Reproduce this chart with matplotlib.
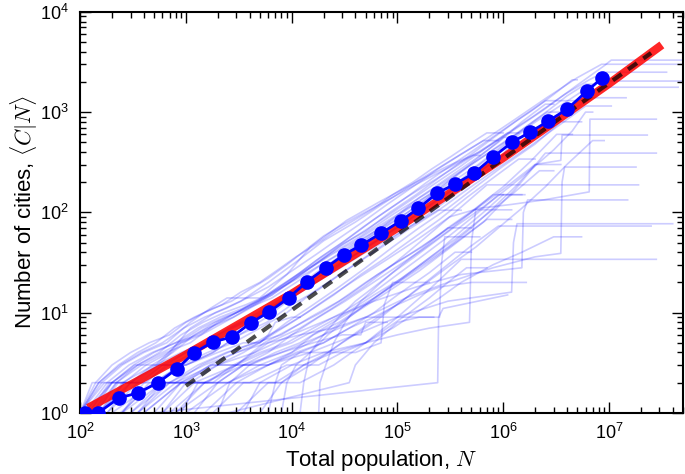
import matplotlib.pyplot as plt

plt.rcParams['font.family'] = ['Liberation Sans', 'DejaVu Sans']
plt.rcParams['mathtext.fontset'] = 'cm'

# binned average (blue dots)
bin_pop = [111, 148, 233, 352, 545, 822, 1190, 1800, 2720, 4100, 6070, 9380,
           1.39e4, 2.09e4, 3.1e4, 4.57e4, 7.06e4, 1.07e5, 1.58e5, 2.38e5, 3.52e5,
           5.32e5, 8.05e5, 1.22e6, 1.8e6, 2.66e6, 4.02e6, 6.19e6, 8.59e6]
bin_cities = [1.0, 1.0, 1.41, 1.58, 2.0, 2.75, 3.97, 5.1, 5.7, 7.9, 10.1, 14.1,
              20.2, 27.9, 37.6, 47.3, 62.3, 82, 110, 156, 192,
              247, 357, 503, 632, 813, 1072, 1622, 2188]

# model curve (red) and power law guide (black dashed)
model_pop = [119, 1e3, 1e4, 1e5, 1e6, 1e7, 3.16e7]
model_cities = [1.12, 3.8, 15.4, 70, 350, 1920, 4680]
guide_pop = [1e3, 2.5e7]
guide_cities = [1.86, 3890]

# individual country trajectories (light blue)
upper_pop = [
    [100, 160, 250, 400, 660, 1100, 1700, 2450, 5000, 9000, 1.5e4, 3.3e4, 7e4, 1.5e5, 3e5, 6e5, 1.2e6, 2.4e6, 4.8e6, 9e6, 1.05e7, 5e7],
    [100, 150, 260, 420, 700, 1100, 1900, 3300, 6000, 1.1e4, 2e4, 4e4, 8e4, 1.6e5, 3.2e5, 6.5e5, 1.3e6, 2.6e6, 5e6, 8.5e6, 5e7],
    [110, 200, 330, 550, 900, 1600, 2800, 5000, 9000, 1.7e4, 3.2e4, 6e4, 1.2e5, 2.4e5, 4.8e5, 9.5e5, 1.9e6, 3.8e6, 6.5e6, 9e6, 3.5e7],
    [130, 220, 380, 650, 1100, 2000, 3600, 6500, 1.2e4, 2.3e4, 4.5e4, 9e4, 1.8e5, 3.6e5, 7e5, 1.4e6, 2.8e6, 5.5e6, 8e6, 5e7],
    [150, 300, 500, 900, 1500, 2600, 4500, 8000, 1.5e4, 2.8e4, 5.5e4, 1.1e5, 2.1e5, 4.2e5, 8.5e5, 1.7e6, 3.4e6, 6e6, 8e6, 4.5e7],
    [180, 350, 600, 1000, 1800, 3200, 5800, 1e4, 1.9e4, 3.6e4, 7e4, 1.4e5, 2.8e5, 5.5e5, 1.1e6, 2.2e6, 4.4e6, 7e6, 1.45e7],
    [240, 500, 900, 1600, 2800, 5000, 9000, 1.6e4, 3e4, 6e4, 1.2e5, 2.3e5, 4.6e5, 9e5, 1.8e6, 3.5e6, 6e6, 1.05e7],
    [300, 600, 1100, 2000, 3500, 6500, 1.2e4, 2.2e4, 4.2e4, 8e4, 1.6e5, 3.1e5, 6e5, 1.2e6, 2.4e6, 6.5e6, 6.6e6, 2.8e7],
    [400, 900, 1700, 3000, 5500, 1e4, 1.9e4, 3.5e4, 6.5e4, 1.3e5, 2.5e5, 5e5, 1e6, 2e6, 3.5e6, 3.6e6, 2.3e7],
    [600, 1200, 2500, 5000, 1e4, 2e4, 4e4, 8e4, 1.6e5, 3.2e5, 6.5e5, 1.3e6, 2.5e6, 2.8e7],
    [100, 150, 230, 350, 520, 780, 1200, 1800, 2700, 4000, 6000, 9000, 1.35e4, 2e4, 3e4, 4.5e4, 6.8e4, 1e5, 1.5e5, 2.3e5, 3.5e5, 5.2e5, 6e5],
    [120, 190, 300, 480, 750, 1200, 1900, 3000, 4800, 7500, 1.2e4, 1.9e4, 3e4, 4.8e4, 7.5e4, 1.2e5, 1.9e5, 3e5, 4.8e5, 7.5e5, 1.2e6, 1.9e6, 3e6, 4.5e6, 5e6],
    [100, 140, 200, 300, 450, 700, 1000, 1500, 2200, 3300, 5000, 7500, 1.1e4, 1.7e4, 2.6e4, 4e4, 6e4, 9e4, 1.4e5, 2.1e5, 3.2e5, 4.8e5, 7e5, 1e6],
]
upper_cities = [
    [1, 2, 3, 4, 5, 8, 11, 14, 14, 24, 45, 83, 130, 200, 290, 400, 640, 1050, 1800, 2900, 3300, 3300],
    [1, 1, 2, 3, 4, 7, 10, 13, 20, 32, 52, 80, 130, 210, 330, 520, 850, 1400, 2200, 3000, 3000],
    [1, 2, 2, 3, 5, 7, 9, 13, 20, 33, 52, 85, 140, 220, 350, 560, 900, 1500, 2100, 2500, 2500],
    [1, 2, 3, 4, 5, 8, 11, 15, 24, 38, 58, 95, 150, 240, 380, 620, 1000, 1600, 2040, 2040],
    [1, 2, 2, 3, 5, 6, 9, 13, 20, 30, 48, 75, 120, 200, 330, 560, 950, 1450, 1770, 1770],
    [1, 2, 3, 3, 4, 6, 9, 14, 22, 35, 55, 90, 150, 240, 400, 650, 1050, 1390, 1390],
    [1, 2, 3, 4, 5, 7, 10, 16, 25, 40, 65, 100, 170, 280, 460, 760, 1150, 1150],
    [1, 2, 2, 3, 4, 6, 9, 14, 22, 34, 55, 90, 110, 120, 133, 160, 850, 850],
    [1, 2, 3, 3, 5, 7, 10, 15, 24, 38, 60, 100, 170, 300, 330, 590, 590],
    [1, 2, 2, 3, 4, 6, 10, 16, 26, 45, 80, 170, 390, 390],
    [1, 2, 3, 4, 5, 7, 9, 11, 13, 17, 22, 30, 42, 58, 75, 95, 120, 150, 190, 240, 300, 370, 370],
    [1, 2, 2, 3, 4, 6, 8, 10, 13, 18, 25, 36, 50, 72, 100, 140, 200, 280, 390, 540, 760, 1050, 1500, 2100, 2100],
    [1, 2, 3, 4, 5, 6, 8, 10, 12, 16, 20, 27, 36, 48, 65, 85, 110, 150, 200, 270, 360, 480, 620, 620],
]

mid_pop = [
    [700, 1500, 3500, 8000, 2e4, 5e4, 1.2e5, 3e5, 8e5, 2e6, 3.5e6, 3.6e6, 3.8e6, 1.8e7],
    [800, 1500, 3000, 6000, 1.2e4, 2.4e4, 4.8e4, 9e4, 1.8e5, 3.5e5, 7e5, 1.9e7],
    [400, 900, 2000, 4500, 1e4, 2.5e4, 6e4, 1.5e5, 4e5, 1.5e6, 1.55e6, 1.7e6, 1.5e7],
    [1000, 2500, 6000, 1.5e4, 4e4, 1e5, 3e5, 1.2e6, 1.25e6, 1.35e6, 4e7],
    [5000, 8000, 1.5e4, 3e4, 6e4, 1.2e5, 2.4e5, 4.8e5, 9e5, 2.5e7],
    [3000, 6000, 1.2e4, 2.5e4, 5e4, 1e5, 2e5, 4e5, 2.8e7],
]
mid_cities = [
    [1, 2, 3, 4, 6, 9, 14, 20, 28, 36, 39, 200, 283, 283],
    [1, 2, 3, 5, 7, 11, 18, 30, 55, 100, 188, 188],
    [1, 2, 3, 4, 6, 9, 13, 18, 24, 28, 100, 133, 133],
    [1, 2, 3, 4, 6, 9, 13, 16, 50, 77, 77],
    [1, 2, 3, 5, 8, 14, 25, 45, 73, 73],
    [1, 2, 2, 3, 5, 9, 17, 34, 34],
]

band_pop = [
    [100, 160, 260, 420, 650, 1000, 1600, 2600, 4200, 7000, 1.2e4, 2e4, 3.4e4, 6e4, 1e5, 1.8e5, 3e5, 5e5, 9e5, 1.6e6, 2.7e6, 4e6, 6e6, 7e6],
    [100, 130, 200, 350, 600, 900, 1400, 2300, 4000, 6500, 1.1e4, 1.8e4, 3e4, 5e4, 8.5e4, 1.5e5, 2.6e5, 4.5e5, 8e5, 1.4e6, 2.5e6, 5e6],
    [120, 200, 330, 520, 850, 1400, 2300, 3800, 6500, 1.1e4, 1.9e4, 3.3e4, 5.5e4, 9.5e4, 1.6e5, 2.8e5, 5e5, 9e5, 1.5e6, 2.5e6, 3e6],
    [140, 230, 380, 600, 1000, 1700, 2800, 4700, 8000, 1.4e4, 2.4e4, 4e4, 7e4, 1.2e5, 2e5, 3.5e5, 6e5, 1e6, 1.7e6, 2.2e6],
    [200, 350, 600, 1000, 1700, 3000, 5000, 9000, 1.6e4, 2.8e4, 5e4, 9e4, 1.6e5, 3e5, 5.5e5, 1e6, 2e6, 3.5e6, 5.5e6],
    [250, 450, 800, 1400, 2500, 4500, 8000, 1.4e4, 2.5e4, 4.5e4, 8e4, 1.4e5, 2.5e5, 4.5e5, 8e5, 1.4e6, 2e6],
    [130, 200, 320, 500, 800, 1300, 2100, 3400, 5500, 9000, 1.5e4, 2.5e4, 4e4, 7e4, 1.2e5, 2e5, 3.5e5, 6e5, 1e6, 1.5e6],
    [100, 150, 240, 380, 600, 950, 1500, 2400, 3800, 6000, 1e4, 1.7e4, 2.8e4, 4.7e4, 8e4, 1.4e5, 2.4e5, 4e5, 6.5e5, 9e5],
    [180, 300, 550, 1000, 1800, 3200, 5800, 1e4, 1.8e4, 3.2e4, 5.8e4, 1e5, 1.8e5, 3.2e5, 5.5e5, 9e5, 1.2e6, 1.7e6],
    [350, 700, 1300, 2400, 4500, 8000, 1.5e4, 2.8e4, 5e4, 9e4, 1.7e5, 3e5, 5.5e5, 1e6, 1.8e6, 3.2e6, 4.5e6],
    [100, 170, 300, 520, 900, 1500, 2500, 4000, 6500, 1.05e4, 1.7e4, 2.8e4, 4.5e4, 7.5e4, 1.25e5, 2.1e5, 3.5e5, 5.8e5, 9.5e5, 1.6e6, 2.6e6, 3.8e6],
    [110, 180, 290, 480, 800, 1300, 2100, 3500, 5800, 9500, 1.6e4, 2.7e4, 4.5e4, 7.5e4, 1.3e5, 2.2e5, 3.8e5, 6.5e5, 1.1e6, 1.4e6],
    [500, 900, 1600, 2800, 5000, 9000, 1.6e4, 3e4, 5.5e4, 1e5, 1.8e5, 3.2e5, 5.5e5, 9e5, 1.5e6],
    [1200, 2000, 3500, 6000, 1e4, 1.8e4, 3.2e4, 5.5e4, 9.5e4, 1.7e5, 3e5, 5e5, 8e5, 1e6],
    [250, 400, 700, 1200, 2000, 3500, 6000, 1e4, 1.7e4, 2.9e4, 5e4, 8.5e4, 1.4e5, 2.4e5, 4e5],
    [140, 220, 350, 560, 900, 1450, 2300, 3700, 6000, 9500, 1.5e4, 2.4e4, 3.8e4, 6e4, 9.5e4, 1.5e5, 2.4e5, 3.2e5],
    [400, 600, 1000, 1800, 3000, 5500, 1e4, 1.8e4, 3.3e4, 6e4, 1.1e5, 2e5, 3.6e5, 6.5e5, 1.2e6, 2.2e6, 3e6],
    [900, 1300, 2000, 3500, 6000, 1e4, 1.6e4, 2.8e4, 5e4, 8e4, 1.4e5, 2.4e5, 4e5, 7e5, 1.2e6],
    [2000, 2600, 4000, 7000, 1.2e4, 2e4, 3.5e4, 6e4, 1e5, 1.7e5, 3e5, 5e5, 8e5, 1.3e6, 2e6, 3.5e6],
    [8000, 9000, 1.1e4, 1.5e4, 2.2e4, 3.5e4, 5.5e4, 9e4, 1.5e5, 2.5e5, 4e5, 6.5e5, 1e6, 1.6e6],
    [3500, 5000, 8000, 1.3e4, 2.2e4, 3.8e4, 6.5e4, 1.1e5, 1.9e5, 3.2e5, 5.5e5, 9e5, 1.5e6, 2.5e6, 4e6, 7e6, 9e6],
    [1.2e4, 1.3e4, 1.5e4, 2e4, 2.8e4, 4e4, 6e4, 9e4, 1.4e5, 2.2e5, 3.5e5, 5.5e5, 8.5e5, 1.3e6, 2e6, 3e6, 4.5e6, 6e6, 7e6],
]
band_cities = [
    [1, 1, 2, 2, 3, 4, 5, 7, 9, 12, 18, 27, 40, 60, 85, 130, 200, 300, 460, 700, 1050, 1450, 1900, 1900],
    [1, 2, 2, 3, 4, 5, 6, 8, 11, 15, 22, 32, 48, 65, 100, 150, 230, 350, 550, 850, 1300, 1300],
    [1, 2, 3, 3, 5, 7, 9, 11, 14, 20, 30, 42, 60, 90, 140, 210, 320, 500, 800, 1200, 1200],
    [1, 2, 2, 3, 4, 5, 7, 9, 13, 19, 28, 38, 55, 85, 130, 190, 300, 450, 700, 700],
    [1, 1, 2, 2, 3, 4, 5, 8, 12, 18, 28, 45, 70, 110, 180, 290, 480, 800, 800],
    [1, 2, 2, 3, 4, 5, 7, 10, 15, 24, 36, 55, 85, 140, 220, 340, 340],
    [1, 2, 3, 4, 5, 7, 9, 11, 14, 19, 26, 36, 50, 70, 105, 150, 230, 360, 560, 560],
    [1, 2, 3, 4, 5, 7, 9, 11, 14, 18, 26, 38, 55, 80, 120, 180, 270, 380, 520, 520],
    [1, 2, 3, 3, 4, 6, 8, 12, 17, 26, 40, 60, 90, 140, 210, 320, 500, 500],
    [1, 2, 3, 4, 5, 6, 9, 13, 20, 30, 45, 70, 110, 180, 320, 600, 600],
    [1, 2, 2, 3, 4, 5, 7, 9, 12, 17, 25, 36, 50, 72, 100, 150, 210, 300, 450, 700, 1000, 1000],
    [1, 2, 3, 4, 5, 6, 8, 11, 15, 21, 30, 44, 62, 88, 130, 190, 280, 420, 620, 620],
    [1, 2, 2, 3, 4, 5, 7, 10, 15, 24, 38, 60, 95, 150, 150],
    [1, 2, 3, 4, 6, 9, 13, 19, 28, 42, 65, 100, 150, 150],
    [1, 2, 3, 4, 6, 8, 10, 14, 20, 28, 40, 55, 75, 105, 105],
    [1, 2, 3, 4, 6, 8, 10, 12, 15, 20, 28, 38, 50, 68, 92, 125, 170, 170],
    [1, 1, 2, 2, 3, 4, 5, 7, 10, 15, 22, 35, 55, 90, 150, 260, 260],
    [1, 2, 2, 3, 3, 4, 6, 8, 12, 17, 25, 37, 55, 85, 85],
    [1, 2, 3, 4, 5, 7, 10, 14, 20, 30, 45, 70, 110, 180, 300, 300],
    [1, 2, 3, 4, 6, 9, 13, 19, 28, 42, 65, 100, 150, 150],
    [1, 2, 2, 3, 4, 6, 9, 13, 20, 30, 45, 70, 110, 180, 300, 520, 520],
    [1, 2, 4, 6, 9, 13, 18, 25, 35, 50, 72, 100, 140, 200, 290, 420, 650, 1000, 1000],
]

low_pop = [
    [500, 2.4e5, 2.45e5, 2.7e5, 1.1e6],
    [1.8e4, 1.85e4, 2.1e4, 2.5e4, 3.2e4, 4.5e4, 7e4, 1.1e5, 1.8e5, 3e5, 5e5],
    [300, 700, 1500, 3000, 6000, 1.2e4, 2.5e4, 5e4, 2.5e5, 2.6e5, 2.8e5, 6e5],
    [800, 2000, 5000, 1e4, 2e4, 5e4, 1e5, 2e5, 4.8e5, 5e5, 5.5e5, 1.2e6],
    [2500, 3.5e4, 4e4, 6e4, 1e5, 1.6e5, 2.2e5],
    [1500, 3000, 6000, 1.1e4, 2e4, 3.5e4, 6e4, 1e5, 1.6e5, 2.5e5, 5e5, 1.65e6],
    [200, 500, 1200, 3000, 6000, 1.2e4, 2e4, 4e4, 7e4, 7.5e4, 9e4, 2e5],
    [1000, 1800, 3500, 7000, 1.3e4, 2.5e4, 5e4, 9e4, 1.5e5, 2.5e5, 4e5, 8e5, 1.5e6, 3e6, 5.5e6],
    [6000, 7000, 8000, 1.2e4, 2e4, 3.5e4, 6e4, 1e5, 2e5, 3.5e5, 5e5],
    [350, 800, 1800, 4000, 8000, 1.6e4, 3e4, 4.5e4, 5e4, 6e4, 8e4],
    [150, 250, 500, 1000, 2000, 3500, 5000, 6000, 7000, 1e4, 1.2e4],
    [250, 600, 1500, 4000, 9000, 1.8e4, 3e4, 5e4, 8e4, 1.3e5, 2e5, 3e5, 4.5e5, 7e5],
]
low_cities = [
    [1, 2, 9, 11, 15],
    [1, 2, 3, 5, 8, 13, 20, 30, 45, 70, 70],
    [1, 2, 3, 4, 5, 6, 7, 9, 9, 30, 57, 57],
    [1, 2, 2, 3, 4, 5, 6, 7, 8, 50, 106, 106],
    [1, 2, 3, 5, 8, 9, 9],
    [1, 2, 3, 4, 5, 7, 9, 12, 15, 18, 20, 20],
    [1, 2, 2, 3, 3, 4, 4, 4, 5, 12, 20, 20],
    [1, 1, 2, 2, 3, 4, 5, 7, 10, 14, 20, 30, 40, 57, 57],
    [1, 2, 3, 4, 5, 7, 10, 15, 25, 40, 40],
    [1, 2, 3, 3, 4, 5, 6, 6, 8, 8, 8],
    [1, 2, 3, 3, 4, 5, 5, 6, 8, 9, 9],
    [1, 2, 2, 2, 3, 3, 4, 5, 7, 10, 14, 20, 28, 28],
]

fig = plt.figure(figsize=(6.85, 4.74), dpi=100)
ax = fig.add_axes([0.117, 0.129, 0.88, 0.846])

all_pop = upper_pop + mid_pop + band_pop + low_pop
all_cities = upper_cities + mid_cities + band_cities + low_cities
for pop, cities in zip(all_pop, all_cities):
    ax.plot(pop, cities, '-', color='blue', alpha=0.2, linewidth=1.2, zorder=1)

ax.plot(model_pop, model_cities, '-', color='red', alpha=0.85, linewidth=6,
        solid_capstyle='butt', zorder=2)
ax.plot(guide_pop, guide_cities, '--', color='black', alpha=0.7, linewidth=3,
        dashes=(2.6, 1.9), zorder=3)
ax.plot(bin_pop, bin_cities, 'o-', color='blue', linewidth=2, markersize=9.5,
        zorder=4)

ax.set_xscale('log')
ax.set_yscale('log')
ax.set_xlim(1e2, 5e7)
ax.set_ylim(1, 1e4)

ax.set_xlabel('Total population, $N$', fontsize=16)
ax.set_ylabel('Number of cities, $\\langle C|N\\rangle$', fontsize=16, labelpad=0)
ax.tick_params(which='both', direction='in', top=True, right=True, labelsize=13)
ax.tick_params(which='major', length=8, width=1)
ax.tick_params(which='minor', length=4, width=1)
ax.tick_params(axis='x', which='major', pad=7)
ax.tick_params(axis='y', which='major', pad=8)
for s in ax.spines.values():
    s.set_linewidth(1.5)

plt.savefig('out.png', dpi=100)
